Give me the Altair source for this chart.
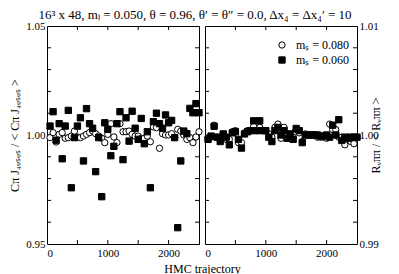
import altair as alt
import pandas as pd

FONT = "Liberation Serif"
W, H = 152, 218

SER = ["mₛ = 0.080", "mₛ = 0.060"]

traj = [50, 100, 150, 200, 250, 300, 350, 400, 450, 500,
        550, 600, 650, 700, 750, 800, 850, 900, 950, 1000,
        1050, 1100, 1150, 1200, 1250, 1300, 1350, 1400, 1450, 1500,
        1550, 1600, 1650, 1700, 1750, 1800, 1850, 1900, 1950, 2000,
        2050, 2100, 2150, 2200, 2250, 2300, 2350, 2400, 2450, 2500]

# Left panel: C^pi ratio
left_080 = [0.9988, 1.0011, 0.9968, 1.0003, 1.0011, 0.9985, 0.9988, 0.9995, 1.0018, 0.9991,
            0.9988, 0.9995, 1.0003, 1.0011, 1.0018, 1.0006, 0.9995, 0.9985, 0.9965, 1.0003,
            1.0052, 0.9991, 0.9965, 1.0052, 1.0015, 1.0015, 1.0018, 1.0003, 0.9995, 0.9995,
            0.9985, 0.9985, 0.9995, 0.9969, 1.0037, 1.0034, 0.9939, 1.0006, 1.0000, 1.0000,
            1.0006, 0.9988, 1.0026, 1.0018, 1.0000, 0.9980, 0.9988, 0.9965, 0.9991, 1.0015]
left_060 = [1.0041, 1.0107, 0.9976, 1.0052, 0.9891, 1.0041, 1.0113, 0.9758, 0.9988, 1.0041,
            1.0079, 0.9881, 1.0121, 1.0052, 1.0031, 0.9832, 0.9988, 0.9717, 1.0056, 1.0026,
            0.9905, 0.9948, 1.0052, 1.0107, 0.9887, 1.0079, 0.9972, 1.0109, 1.0031, 0.9980,
            1.0076, 0.9960, 1.0015, 0.9758, 1.0061, 1.0100, 1.0052, 1.0031, 1.0092, 1.0056,
            1.0067, 0.9988, 0.9575, 0.9881, 1.0018, 1.0006, 1.0122, 1.0102, 1.0144, 1.0102]

# Right panel: R_V ratio
right_080 = [0.9997, 0.9998, 1.0009, 0.9998, 0.9998, 1.0000, 0.9996, 0.9996, 1.0003, 1.0004,
             0.9993, 0.9993, 1.0002, 1.0004, 1.0004, 1.0008, 1.0004, 1.0007, 1.0004, 1.0004,
             1.0001, 0.9998, 1.0007, 1.0010, 0.9997, 1.0007, 1.0001, 0.9999, 0.9998, 1.0005,
             1.0002, 0.9994, 1.0001, 1.0000, 1.0000, 1.0000, 0.9998, 0.9998, 0.9998, 0.9997,
             1.0010, 1.0005, 1.0005, 0.9998, 0.9998, 0.9991, 0.9998, 0.9994, 0.9992, 0.9998]
right_060 = [0.9996, 0.9999, 1.0008, 0.9998, 0.9994, 1.0001, 0.9998, 0.9991, 1.0002, 1.0003,
             0.9996, 0.9988, 1.0001, 1.0003, 1.0004, 1.0013, 1.0004, 1.0013, 1.0004, 1.0004,
             0.9998, 0.9994, 1.0004, 1.0007, 1.0000, 1.0004, 0.9997, 1.0001, 0.9996, 1.0006,
             1.0004, 0.9993, 1.0000, 1.0000, 1.0000, 1.0000, 1.0000, 0.9999, 0.9999, 1.0000,
             0.9998, 1.0009, 1.0000, 1.0014, 0.9995, 0.9998, 0.9997, 0.9998, 0.9998, 0.9998]

x_labels = [0, 1000, 2000]
x_ticks = [500, 1000, 1500, 2000]
left_labels = [0.95, 1.00, 1.05]
left_ticks = [0.96, 0.97, 0.98, 0.99, 1.00, 1.01, 1.02, 1.03, 1.04]
right_labels = [0.99, 1.00, 1.01]
right_ticks = [0.992, 0.994, 0.996, 0.998, 1.000, 1.002, 1.004, 1.006, 1.008]


def make_df(a, b):
    return pd.DataFrame({
        "traj": traj + traj,
        "val": a + b,
        "series": [SER[0]] * len(a) + [SER[1]] * len(b),
        "ord": list(range(len(a) + len(b))),
    })


def panel(df, ydom, ylabels, yticks, side, ytitle, xtitle, show_legend):
    xs = alt.Scale(domain=[0, 2500], nice=False, zero=False)
    ys = alt.Scale(domain=ydom, nice=False, zero=False)
    if show_legend:
        leg = alt.Legend(orient="none", legendX=71, legendY=13, title=None,
                         labelFont=FONT, labelFontSize=12, labelColor="black",
                         symbolStrokeColor="black", symbolStrokeWidth=1,
                         symbolSize=40, rowPadding=3, labelOffset=8, padding=0)
    else:
        leg = None
    xkw = dict(orient="bottom", values=x_labels, ticks=False, domain=False,
               grid=False, labelPadding=3, labelFont=FONT, labelFontSize=11,
               labelColor="black", format="d", minExtent=0)
    if xtitle:
        xaxis = alt.Axis(title=xtitle, titleX=W + 3, titleY=19, titleBaseline="top",
                         titleFont=FONT, titleFontSize=12, titleFontWeight="normal",
                         titleColor="black", **xkw)
    else:
        xaxis = alt.Axis(title=None, **xkw)
    yaxis = alt.Axis(orient=side, values=ylabels, ticks=False, domain=False, grid=False,
                     labelPadding=2, labelFont=FONT, labelFontSize=11, labelColor="black",
                     format=".2f", title=ytitle, titleAngle=270, titleFont=FONT,
                     titleFontSize=12, titleFontWeight="normal", titleColor="black",
                     titlePadding=4, minExtent=0)
    X = alt.X("traj:Q", scale=xs, axis=xaxis)
    Y = alt.Y("val:Q", scale=ys, axis=yaxis)
    pts = alt.Chart(df).mark_point(filled=True, strokeWidth=1,
                                   opacity=1, size=40).encode(
        x=X, y=Y,
        shape=alt.Shape("series:N", scale=alt.Scale(domain=SER, range=["circle", "square"]),
                        legend=leg),
        fill=alt.Fill("series:N", scale=alt.Scale(domain=SER, range=["white", "black"]),
                      legend=leg),
        stroke=alt.Stroke("series:N", scale=alt.Scale(domain=SER, range=["black", "black"]),
                          legend=leg),
        order=alt.Order("ord:Q"),
    )
    xt = pd.DataFrame({"traj": x_ticks})
    yt = pd.DataFrame({"val": yticks})
    tick_top = alt.Chart(xt).mark_rule(color="black", strokeWidth=1).encode(
        x=X, y=alt.value(0), y2=alt.value(4))
    tick_bot = alt.Chart(xt).mark_rule(color="black", strokeWidth=1).encode(
        x=X, y=alt.value(H), y2=alt.value(H - 4))
    tick_l = alt.Chart(yt).mark_rule(color="black", strokeWidth=1).encode(
        y=Y, x=alt.value(0), x2=alt.value(4))
    tick_r = alt.Chart(yt).mark_rule(color="black", strokeWidth=1).encode(
        y=Y, x=alt.value(W), x2=alt.value(W - 4))
    return alt.layer(tick_top, tick_bot, tick_l, tick_r, pts).properties(width=W, height=H)


left = panel(make_df(left_080, left_060), [0.95, 1.05], left_labels, left_ticks, "left",
             "Cπ J₄ᵩₛᵩₛ  /  < Cπ J₄ᵩₛᵩₛ >", "HMC trajectory", False)
right = panel(make_df(right_080, right_060), [0.99, 1.01], right_labels, right_ticks,
              "right", "Rᵥππ  /  < Rᵥππ >", None, True)

chart = alt.hconcat(left, right, spacing=6, bounds="flush").resolve_scale(
    shape="independent", fill="independent", stroke="independent"
).properties(
    title=alt.TitleParams("16³ x 48,  mₗ = 0.050,  θ = 0.96,  θ′ = θ″ = 0.0,  Δx₄ = Δx₄′ = 10",
                          font=FONT, fontSize=13, fontWeight="normal", color="black",
                          anchor="middle", offset=-2),
    padding=0,
).configure_view(stroke="black", strokeWidth=1)

chart.save("out.html", embed_options={"renderer": "svg", "actions": False})
